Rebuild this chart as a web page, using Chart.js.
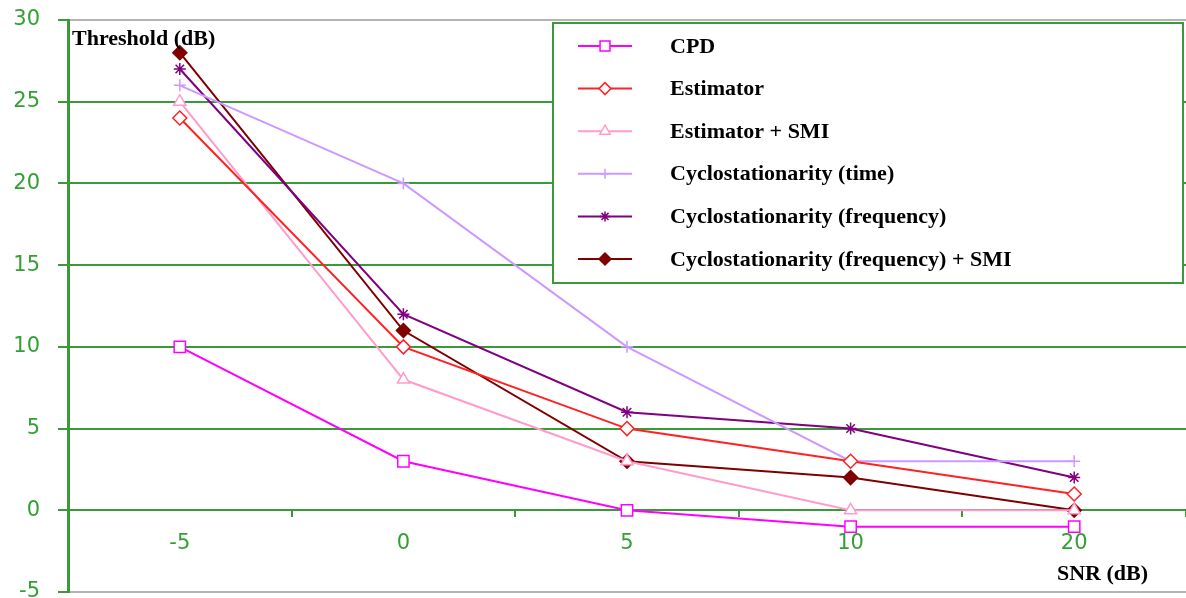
<!DOCTYPE html>
<html>
<head>
<meta charset="utf-8">
<script src="https://cdn.jsdelivr.net/npm/chart.js@4.4.0/dist/chart.umd.min.js"></script>
<style>
  html, body { margin: 0; padding: 0; background: #fff; }
  #wrap { position: relative; width: 1186px; height: 598px; }
</style>
</head>
<body>
<div id="wrap"><canvas id="chart"></canvas></div>
<script>
  // SNR (dB) categories on the x axis
  const snrLabels = ['-5', '0', '5', '10', '20'];

  // Threshold (dB) per detector
  const cpd = [10, 3, 0, -1, -1];
  const estimator = [24, 10, 5, 3, 1];
  const estimatorSmi = [25, 8, 3, 0, 0];
  const cycloTime = [26, 20, 10, 3, 3];
  const cycloFreq = [27, 12, 6, 5, 2];
  const cycloFreqSmi = [28, 11, 3, 2, 0];

  const GRID_GREEN = '#3a9a3a';
  const TEXT_GREEN = '#33a033';
  const TICK_FONT = { family: '"DejaVu Sans", Verdana, sans-serif', size: 21 };

  function series(label, data, color, style, filled, radius) {
    return {
      label: label,
      data: data,
      borderColor: color,
      backgroundColor: color,
      borderWidth: 2,
      tension: 0,
      pointStyle: style,
      pointRadius: radius,
      pointHoverRadius: radius,
      pointBorderWidth: 1.5,
      pointBorderColor: color,
      pointBackgroundColor: filled ? color : '#fff',
    };
  }

  const datasets = [
    series('CPD', cpd, '#ff00ff', 'rect', false, 8),
    series('Estimator', estimator, '#ff2222', 'rectRot', false, 7),
    series('Estimator + SMI', estimatorSmi, '#ff9ccc', 'triangle', false, 7),
    series('Cyclostationarity (time)', cycloTime, '#cc99ff', 'cross', false, 6),
    series('Cyclostationarity (frequency)', cycloFreq, '#800080', 'star', false, 6),
    series('Cyclostationarity (frequency) + SMI', cycloFreqSmi, '#800000', 'rectRot', true, 7),
  ];

  // legend box and the two free-standing axis captions
  const overlay = {
    id: 'overlay',
    afterDatasetsDraw(chart) {
      const ctx = chart.ctx;
      ctx.save();
      ctx.fillStyle = '#fff';
      ctx.fillRect(552, 22, 632, 262);
      ctx.strokeStyle = GRID_GREEN;
      ctx.lineWidth = 2;
      ctx.strokeRect(553, 23, 630, 260);

      ctx.font = 'bold 22px "Liberation Serif", "Times New Roman", serif';
      ctx.textBaseline = 'middle';
      chart.data.datasets.forEach((ds, i) => {
        const y = 46 + i * 42.6;
        ctx.strokeStyle = ds.borderColor;
        ctx.lineWidth = 2;
        ctx.beginPath();
        ctx.moveTo(578, y);
        ctx.lineTo(632, y);
        ctx.stroke();
        ctx.fillStyle = ds.pointBackgroundColor;
        ctx.lineWidth = 1.5;
        Chart.helpers.drawPoint(ctx, {
          pointStyle: ds.pointStyle,
          radius: ds.pointRadius - 1,
          rotation: 0,
          borderWidth: 1.5,
        }, 605, y);
        ctx.fillStyle = '#000';
        ctx.fillText(ds.label, 670, y + 1);
      });

      ctx.fillStyle = '#000';
      ctx.fillText('Threshold (dB)', 72, 39);
      ctx.fillText('SNR (dB)', 1057, 574);
      ctx.restore();
    },
  };

  new Chart(document.getElementById('chart'), {
    type: 'line',
    data: { labels: snrLabels, datasets: datasets },
    plugins: [overlay],
    options: {
      responsive: true,
      maintainAspectRatio: false,
      animation: false,
      layout: { autoPadding: false, padding: { top: 20, bottom: 6, left: 0, right: 0 } },
      plugins: {
        legend: { display: false },
        tooltip: { enabled: false },
      },
      scales: {
        x: {
          position: { y: 0 },
          offset: true,
          grid: {
            offset: true,
            drawOnChartArea: false,
            drawTicks: true,
            tickLength: 7,
            tickColor: GRID_GREEN,
            lineWidth: 2,
          },
          border: { display: false },
          ticks: {
            color: TEXT_GREEN,
            padding: 14,
            font: TICK_FONT,
          },
          afterFit(scale) {
            scale.paddingLeft = 0;
            scale.paddingRight = 0;
          },
        },
        y: {
          min: -5,
          max: 30,
          ticks: {
            stepSize: 5,
            color: TEXT_GREEN,
            padding: 18,
            font: TICK_FONT,
          },
          grid: {
            color: (c) => (c.tick && (c.tick.value === 30 || c.tick.value === -5)) ? '#b4b4b4' : GRID_GREEN,
            tickColor: GRID_GREEN,
            tickLength: 10,
            lineWidth: 2,
          },
          border: { color: GRID_GREEN, width: 3 },
          afterFit(scale) {
            scale.width = 68;
            scale.paddingTop = 0;
            scale.paddingBottom = 0;
          },
        },
      },
    },
  });
</script>
</body>
</html>
